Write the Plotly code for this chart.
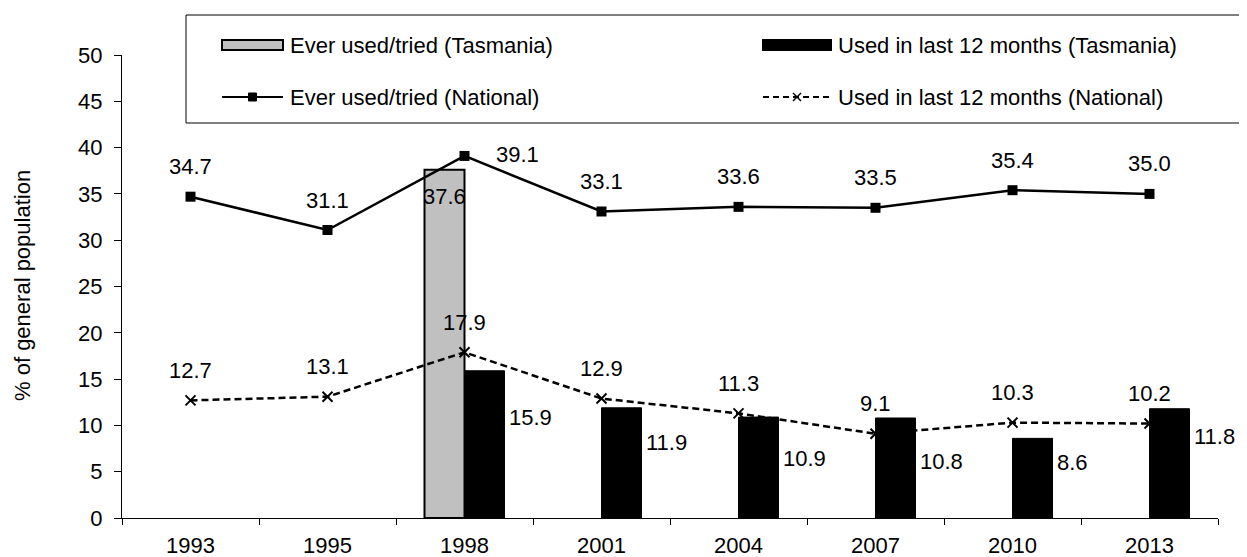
import plotly.graph_objects as go

# survey years (categories)
years = ["1993", "1995", "1998", "2001", "2004", "2007", "2010", "2013"]

# Tasmania (bars)
tas_ever = [None, None, 37.6, None, None, None, None, None]
tas_12m = [None, None, 15.9, 11.9, 10.9, 10.8, 8.6, 11.8]

# National (lines)
nat_ever = [34.7, 31.1, 39.1, 33.1, 33.6, 33.5, 35.4, 35.0]
nat_12m = [12.7, 13.1, 17.9, 12.9, 11.3, 9.1, 10.3, 10.2]

names = ["Ever used/tried (Tasmania)", "Used in last 12 months (Tasmania)",
         "Ever used/tried (National)", "Used in last 12 months (National)"]

FONT = "Liberation Sans, Arial, sans-serif"
FS = 22
OFF = 8  # page body margin
W, H = 1247 - OFF, 557 - OFF
L, R, T, B = 122 - OFF, 29, 55 - OFF, 39
PW, PH = W - L - R, H - T - B

# category positions on the axis
xpos = list(range(len(years)))


def px(x):
    # window pixel -> paper fraction
    return (x - OFF - L) / PW


def py(y):
    return (H - B - (y - OFF)) / PH


fig = go.Figure()

fig.add_trace(go.Bar(
    x=xpos, y=tas_ever, name=names[0],
    marker=dict(color="#C0C0C0", line=dict(color="black", width=2)),
))
fig.add_trace(go.Bar(
    x=xpos, y=tas_12m, name=names[1],
    marker=dict(color="black", line=dict(color="black", width=1)),
))
fig.add_trace(go.Scatter(
    x=xpos, y=nat_ever, name=names[2], mode="lines+markers",
    line=dict(color="black", width=2.5),
    marker=dict(symbol="square", size=10, color="black"),
))
fig.add_trace(go.Scatter(
    x=xpos, y=nat_12m, name=names[3], mode="lines+markers",
    line=dict(color="black", width=2.5, dash="7px,4px"),
    marker=dict(symbol="x-thin", size=10, line=dict(color="black", width=2)),
))

ann = []
# national labels above markers (1998 ever-used label sits to the right)
for i, (yr, v) in enumerate(zip(years, nat_ever)):
    if yr == "1998":
        ann.append(dict(x=i, y=v, text=f"{v:.1f}", xshift=53, yshift=1))
    else:
        ann.append(dict(x=i, y=v, text=f"{v:.1f}", yshift=30))
for i, v in enumerate(nat_12m):
    ann.append(dict(x=i, y=v, text=f"{v:.1f}", yshift=30))
# grey bar label, inside top
for i, v in enumerate(tas_ever):
    if v is not None:
        ann.append(dict(x=i, y=v, text=f"{v:.1f}", xshift=-20, yshift=-27))
# black bar labels, to the right of the bars
bar_dy = [-47, -35, -41, -44, -24, -28]
k = 0
for i, v in enumerate(tas_12m):
    if v is not None:
        ann.append(dict(x=i, y=v, text=f"{v:.1f}", xanchor="left",
                        xshift=42, yshift=bar_dy[k]))
        k += 1

for a in ann:
    a.update(showarrow=False, font=dict(family=FONT, size=FS, color="black"))

# y axis title
ann.append(dict(xref="paper", yref="paper", x=px(22), y=py(286),
                text="% of general population", textangle=-90, showarrow=False,
                xanchor="center", yanchor="middle",
                font=dict(family=FONT, size=FS, color="black")))

# legend drawn by hand (Excel style wide symbols)
row1, row2 = 45, 97
c1, c2 = 222, 763
sw1, sw2 = 61, 68
shapes = [
    dict(type="rect", xref="paper", yref="paper", x0=px(186), x1=px(1262),
         y0=py(123), y1=py(15), line=dict(color="black", width=1),
         fillcolor="rgba(0,0,0,0)"),
    dict(type="rect", xref="paper", yref="paper", x0=px(c1), x1=px(c1 + sw1),
         y0=py(row1 + 5), y1=py(row1 - 5), fillcolor="#C0C0C0",
         line=dict(color="black", width=2)),
    dict(type="rect", xref="paper", yref="paper", x0=px(c2), x1=px(c2 + sw2),
         y0=py(row1 + 5), y1=py(row1 - 5), fillcolor="black",
         line=dict(color="black", width=2)),
    dict(type="line", xref="paper", yref="paper", x0=px(c1), x1=px(c1 + sw1),
         y0=py(row2), y1=py(row2), line=dict(color="black", width=2)),
    dict(type="rect", xref="paper", yref="paper", x0=px(c1 + sw1 / 2 - 4),
         x1=px(c1 + sw1 / 2 + 4), y0=py(row2 + 4), y1=py(row2 - 4),
         fillcolor="black", line=dict(color="black", width=1)),
    dict(type="line", xref="paper", yref="paper", x0=px(c2), x1=px(c2 + sw2),
         y0=py(row2), y1=py(row2), line=dict(color="black", width=2, dash="6px,4px")),
    dict(type="line", xref="paper", yref="paper", x0=px(c2 + sw2 / 2 - 4),
         x1=px(c2 + sw2 / 2 + 4), y0=py(row2 - 4), y1=py(row2 + 4),
         line=dict(color="black", width=1.5)),
    dict(type="line", xref="paper", yref="paper", x0=px(c2 + sw2 / 2 - 4),
         x1=px(c2 + sw2 / 2 + 4), y0=py(row2 + 4), y1=py(row2 - 4),
         line=dict(color="black", width=1.5)),
]
leg_pos = [(c1 + sw1 + 5, row1), (c2 + sw2 + 5, row1),
           (c1 + sw1 + 5, row2), (c2 + sw2 + 5, row2)]
for (x, y), n in zip(leg_pos, names):
    ann.append(dict(xref="paper", yref="paper", x=px(x), y=py(y), text=n,
                    xanchor="left", yanchor="middle", showarrow=False,
                    font=dict(family=FONT, size=FS, color="black")))

fig.update_layout(
    width=W, height=H,
    margin=dict(l=L, r=R, t=T, b=B),
    paper_bgcolor="white", plot_bgcolor="white",
    font=dict(family=FONT, size=FS, color="black"),
    barmode="group", bargap=0.416, bargroupgap=0,
    showlegend=False,
    annotations=ann,
    shapes=shapes,
)
fig.update_xaxes(
    range=[-0.5, len(years) - 0.5], tickvals=xpos, ticktext=years,
    ticks="", showline=True, linecolor="black", linewidth=1, automargin=False,
    showgrid=False, zeroline=False, tickfont=dict(size=FS), ticklabelstandoff=8,
    minor=dict(tickvals=[i - 0.5 for i in range(len(years) + 1)],
               ticks="outside", ticklen=6, tickcolor="black", showgrid=False),
)
fig.update_yaxes(
    range=[0, 50], dtick=5, ticks="outside", ticklen=7, tickcolor="black",
    showline=True, linecolor="black", linewidth=1, showgrid=False, automargin=False,
    zeroline=False, tickfont=dict(size=FS), ticklabelstandoff=7,
)

fig.write_html("out.html")
